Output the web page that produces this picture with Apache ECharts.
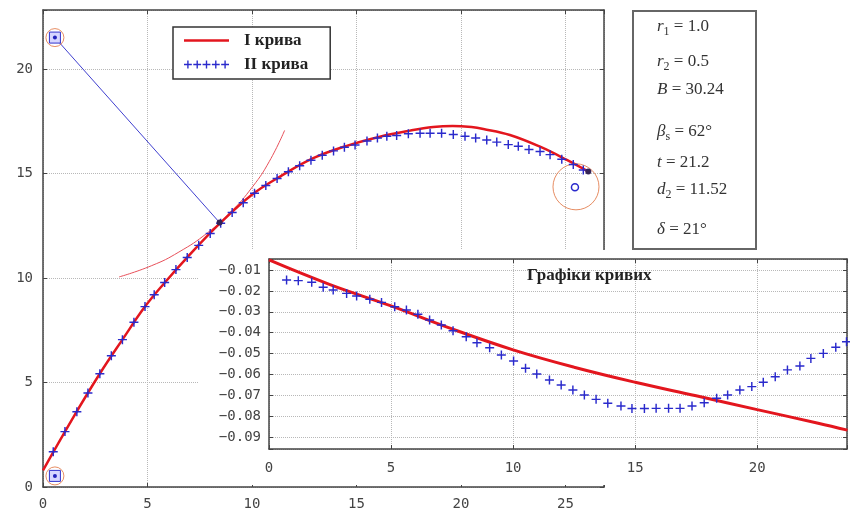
<!DOCTYPE html>
<html>
<head>
<meta charset="utf-8">
<script src="https://cdn.jsdelivr.net/npm/echarts@6/dist/echarts.min.js"></script>
<style>
  html, body { margin: 0; padding: 0; background: #fff; }
  #chart { width: 850px; height: 513px; }
</style>
</head>
<body>
<div id="chart"></div>
<script>
// --- main picture: curve I (red line), curve II (blue pluses) ---
const curveIX = [0, 1.4, 2.73, 3.8, 4.88, 5.8, 6.87, 8.47, 9.98, 11.34, 12.93, 14.53, 16.12, 17.56, 18.67, 19.6, 20.5, 21.07, 22.34, 23.78, 25.06, 26.09];
const curveIY = [0.8, 3.25, 5.44, 7.05, 8.63, 9.75, 10.95, 12.62, 13.97, 14.85, 15.73, 16.32, 16.76, 17.05, 17.22, 17.27, 17.22, 17.13, 16.84, 16.28, 15.65, 15.09];

const curveIIX = [0.49, 1.05, 1.62, 2.15, 2.72, 3.27, 3.8, 4.35, 4.88, 5.32, 5.82, 6.36, 6.9, 7.45, 8.0, 8.5, 9.05, 9.58, 10.12, 10.66, 11.2, 11.74, 12.28, 12.82, 13.36, 13.9, 14.42, 14.93, 15.5, 16.0, 16.45, 16.92, 17.48, 18.04, 18.52, 19.07, 19.63, 20.19, 20.7, 21.23, 21.71, 22.26, 22.74, 23.25, 23.78, 24.26, 24.82, 25.37, 25.85];
const curveIIY = [1.69, 2.65, 3.6, 4.5, 5.42, 6.28, 7.05, 7.88, 8.63, 9.2, 9.78, 10.4, 10.98, 11.56, 12.13, 12.62, 13.13, 13.6, 14.05, 14.42, 14.76, 15.08, 15.37, 15.63, 15.87, 16.08, 16.25, 16.36, 16.55, 16.7, 16.78, 16.82, 16.9, 16.92, 16.92, 16.92, 16.86, 16.78, 16.7, 16.6, 16.5, 16.38, 16.3, 16.15, 16.05, 15.9, 15.68, 15.43, 15.17];

// thin red arc and the blue radius to it
const arcX = [3.64, 5.2, 6.5, 7.87, 8.95, 10.03, 10.83, 11.56];
const arcY = [10.05, 10.59, 11.24, 12.16, 13.12, 14.37, 15.58, 17.06];
const radiusX = [0.57, 8.45];
const radiusY = [21.5, 12.65];

// marked points
const boxedX = [0.57, 0.57];
const boxedY = [21.5, 0.53];
const dotX = [8.45, 26.09];
const dotY = [12.65, 15.09];
const looseX = [25.45];
const looseY = [14.34];
const ringX = [0.57, 0.57, 25.5];
const ringY = [21.5, 0.53, 14.36];
const ringSize = [18, 18, 46];

// --- inset: "Графіки кривих" ---
const insetLineX = [0, 2.5, 5, 7.5, 10, 12.5, 15, 17.5, 20, 22.5, 23.7];
const insetLineY = [-0.0052, -0.0170, -0.0272, -0.0382, -0.0482, -0.0565, -0.0637, -0.0702, -0.0768, -0.0833, -0.0866];
const insetPlusX = [0.72, 1.2, 1.75, 2.22, 2.63, 3.18, 3.59, 4.13, 4.61, 5.15, 5.63, 6.1, 6.58, 7.06, 7.54, 8.08, 8.52, 9.04, 9.52, 10.02, 10.51, 10.97, 11.49, 11.97, 12.45, 12.92, 13.4, 13.88, 14.42, 14.87, 15.38, 15.86, 16.37, 16.84, 17.33, 17.83, 18.34, 18.79, 19.29, 19.78, 20.25, 20.74, 21.24, 21.75, 22.2, 22.71, 23.22, 23.66];
const insetPlusY = [-0.0148, -0.0151, -0.0159, -0.0183, -0.0196, -0.0212, -0.0224, -0.024, -0.0255, -0.0276, -0.0291, -0.0312, -0.0339, -0.0363, -0.0391, -0.0419, -0.0448, -0.0472, -0.0507, -0.0535, -0.057, -0.0598, -0.0626, -0.065, -0.0674, -0.0698, -0.0719, -0.0738, -0.0751, -0.0763, -0.0763, -0.0762, -0.0762, -0.0762, -0.0751, -0.0735, -0.0714, -0.0698, -0.0674, -0.0658, -0.0637, -0.0611, -0.0578, -0.0559, -0.0523, -0.0499, -0.047, -0.0443];

// parameter box lines: [symbol, subscript, value]
const paramSym = ['r', 'r', 'B', 'β', 't', 'd', 'δ'];
const paramSub = ['1', '2', '', 's', '', '2', ''];
const paramVal = [' = 1.0', ' = 0.5', ' = 30.24', ' = 62°', ' = 21.2', ' = 11.52', ' = 21°'];
const paramTop = [27, 62, 90, 132, 163, 190, 230];

const seriesNames = ['I крива', 'II крива'];

const zip = (xs, ys) => xs.map((x, i) => [x, ys[i]]);

const RED = '#e3161e';
const BLUE = '#2a2acc';
const AXIS = '#444';
const MONO = '"DejaVu Sans Mono", "Liberation Mono", monospace';
const SERIF = '"Liberation Serif", "DejaVu Serif", serif';

const plusPath = 'path://M0,4.2H10V5.8H0Z M4.2,0H5.8V10H4.2Z';
let legendPlus = 'path://';
for (let i = 0; i < 5; i++) {
  const o = i * 9.5;
  legendPlus += `M${o},3.3H${o + 8}V4.7H${o}Z M${o + 3.3},0H${o + 4.7}V8H${o + 3.3}Z `;
}

const everyFive = (v) => (Math.abs(v / 5 - Math.round(v / 5)) < 1e-6 ? String(Math.round(v)) : '');
const hundredths = (v) => {
  const k = Math.round(v * 100);
  if (Math.abs(v * 100 - k) > 1e-6 || k === 0) return '';
  return '\u22120.0' + Math.abs(k);
};

function frameAxis(extra) {
  return Object.assign({
    type: 'value',
    axisLine: { show: true, onZero: false, lineStyle: { color: AXIS, width: 1.5 } },
    axisTick: { show: true, inside: true, length: 4, lineStyle: { color: AXIS } },
    axisLabel: { show: false },
    splitLine: { show: false },
  }, extra);
}

const chart = echarts.init(document.getElementById('chart'));

const option = {
  animation: false,
  backgroundColor: '#fff',
  title: {
    text: 'Графіки кривих',
    left: 527,
    top: 267,
    padding: 0,
    z: 12,
    textStyle: { fontFamily: SERIF, fontWeight: 'bold', fontSize: 17, color: '#222' },
  },
  legend: {
    data: [
      { name: seriesNames[0], icon: 'path://M0,0H40V2.4H0Z' },
      { name: seriesNames[1], icon: legendPlus },
    ],
    orient: 'vertical',
    left: 173,
    top: 27,
    itemWidth: 45,
    itemHeight: 10,
    itemGap: 7,
    padding: [5, 22, 6, 11],
    borderColor: '#333',
    borderWidth: 1.5,
    backgroundColor: '#fff',
    textStyle: { fontFamily: SERIF, fontWeight: 'bold', fontSize: 17, color: '#222', padding: [0, 0, 0, 10] },
  },
  grid: [
    { left: 43, top: 10, width: 561, height: 477 },
    { left: 269, top: 259, width: 579, height: 190, z: 6 },
  ],
  xAxis: [
    {
      type: 'value', gridIndex: 0, min: 0, max: 26.84, interval: 5,
      axisLine: { onZero: false, lineStyle: { color: AXIS, width: 1.5 } },
      axisTick: { inside: true, length: 4, lineStyle: { color: AXIS } },
      axisLabel: { color: AXIS, fontFamily: MONO, fontSize: 14, margin: 10, formatter: everyFive },
      splitLine: { lineStyle: { type: 'dotted', color: '#b8b8b8' } },
    },
    frameAxis({ gridIndex: 0, position: 'top', min: 0, max: 26.84, interval: 5 }),
    {
      type: 'value', gridIndex: 1, min: 0, max: 23.68, interval: 5, z: 6,
      axisLine: { onZero: false, lineStyle: { color: AXIS, width: 1.5 } },
      axisTick: { inside: true, length: 4, lineStyle: { color: AXIS } },
      axisLabel: { color: AXIS, fontFamily: MONO, fontSize: 14, margin: 12, formatter: everyFive },
      splitLine: { lineStyle: { type: 'dotted', color: '#b8b8b8' } },
    },
    frameAxis({ gridIndex: 1, position: 'top', min: 0, max: 23.68, interval: 5, z: 6 }),
  ],
  yAxis: [
    {
      type: 'value', gridIndex: 0, min: 0, max: 22.82, interval: 5,
      axisLine: { onZero: false, lineStyle: { color: AXIS, width: 1.5 } },
      axisTick: { inside: true, length: 4, lineStyle: { color: AXIS } },
      axisLabel: { color: AXIS, fontFamily: MONO, fontSize: 14, margin: 10, formatter: everyFive },
      splitLine: { lineStyle: { type: 'dotted', color: '#b8b8b8' } },
    },
    frameAxis({ gridIndex: 0, position: 'right', min: 0, max: 22.82, interval: 5 }),
    {
      type: 'value', gridIndex: 1, min: -0.09565, max: -0.00474, splitNumber: 9, z: 6,
      axisLine: { onZero: false, lineStyle: { color: AXIS, width: 1.5 } },
      axisTick: { inside: true, length: 4, lineStyle: { color: AXIS } },
      axisLabel: { color: AXIS, fontFamily: MONO, fontSize: 14, margin: 8, formatter: hundredths },
      splitLine: { lineStyle: { type: 'dotted', color: '#b8b8b8' } },
    },
    frameAxis({ gridIndex: 1, position: 'right', min: -0.09565, max: -0.00474, splitNumber: 9, z: 6 }),
  ],
  graphic: [
    {
      type: 'rect', z: 5, silent: true,
      shape: { x: 198, y: 250, width: 652, height: 235 },
      style: { fill: '#fff' },
    },
    {
      type: 'rect', z: 5, silent: true,
      shape: { x: 633, y: 11, width: 123, height: 238 },
      style: { fill: '#fff', stroke: '#666', lineWidth: 2 },
    },
  ].concat(paramSym.map((s, i) => ({
    type: 'text', z: 6, silent: true,
    x: 657, y: paramTop[i],
    style: {
      text: `{v|${s}}` + (paramSub[i] ? `{s|${paramSub[i]}}` : '') + `{n|${paramVal[i]}}`,
      verticalAlign: 'middle',
      fill: '#333',
      rich: {
        v: { fontFamily: SERIF, fontStyle: 'italic', fontSize: 17, lineHeight: 22, fill: '#333' },
        s: { fontFamily: SERIF, fontSize: 12, lineHeight: 22, verticalAlign: 'bottom', fill: '#333' },
        n: { fontFamily: SERIF, fontSize: 17, lineHeight: 22, fill: '#333' },
      },
    },
  }))),
  series: [
    {
      name: seriesNames[0], type: 'line', xAxisIndex: 0, yAxisIndex: 0,
      data: zip(curveIX, curveIY), smooth: 0.4, symbol: 'none', z: 3,
      lineStyle: { color: RED, width: 2.5 }, itemStyle: { color: RED },
    },
    {
      type: 'line', xAxisIndex: 0, yAxisIndex: 0, data: zip(arcX, arcY), smooth: 0.5,
      symbol: 'none', silent: true, z: 2, lineStyle: { color: '#e8505a', width: 1 },
    },
    {
      type: 'line', xAxisIndex: 0, yAxisIndex: 0, data: zip(radiusX, radiusY),
      symbol: 'none', silent: true, z: 2, lineStyle: { color: '#4040d0', width: 1 },
    },
    {
      name: seriesNames[1], type: 'scatter', xAxisIndex: 0, yAxisIndex: 0,
      data: zip(curveIIX, curveIIY), symbol: plusPath, symbolSize: 9, z: 4,
      itemStyle: { color: BLUE, opacity: 1 },
    },
    {
      type: 'scatter', xAxisIndex: 0, yAxisIndex: 0, silent: true, z: 3,
      data: ringX.map((x, i) => ({ value: [x, ringY[i]], symbolSize: ringSize[i] })),
      symbol: 'circle',
      itemStyle: { color: 'rgba(0,0,0,0)', borderColor: '#e0703c', borderWidth: 1 },
    },
    {
      type: 'scatter', xAxisIndex: 0, yAxisIndex: 0, silent: true, z: 4,
      data: zip(boxedX, boxedY), symbol: 'rect', symbolSize: 11,
      itemStyle: { color: '#d6d6ff', borderColor: '#3333cc', borderWidth: 1, opacity: 1 },
    },
    {
      type: 'scatter', xAxisIndex: 0, yAxisIndex: 0, silent: true, z: 4,
      data: zip(boxedX, boxedY), symbol: 'circle', symbolSize: 4,
      itemStyle: { color: '#2222bb', opacity: 1 },
    },
    {
      type: 'scatter', xAxisIndex: 0, yAxisIndex: 0, silent: true, z: 4,
      data: zip(dotX, dotY), symbol: 'circle', symbolSize: 6,
      itemStyle: { color: '#332255', opacity: 1 },
    },
    {
      type: 'scatter', xAxisIndex: 0, yAxisIndex: 0, silent: true, z: 4,
      data: zip(looseX, looseY), symbol: 'circle', symbolSize: 7,
      itemStyle: { color: '#fff', borderColor: BLUE, borderWidth: 1.5, opacity: 1 },
    },
    {
      type: 'line', xAxisIndex: 2, yAxisIndex: 2, data: zip(insetLineX, insetLineY),
      smooth: 0.4, symbol: 'none', z: 7, silent: true,
      lineStyle: { color: RED, width: 3 },
    },
    {
      type: 'scatter', xAxisIndex: 2, yAxisIndex: 2, data: zip(insetPlusX, insetPlusY),
      symbol: plusPath, symbolSize: 9, z: 8, silent: true,
      itemStyle: { color: BLUE, opacity: 1 },
    },
  ],
};

chart.setOption(option);
</script>
</body>
</html>
